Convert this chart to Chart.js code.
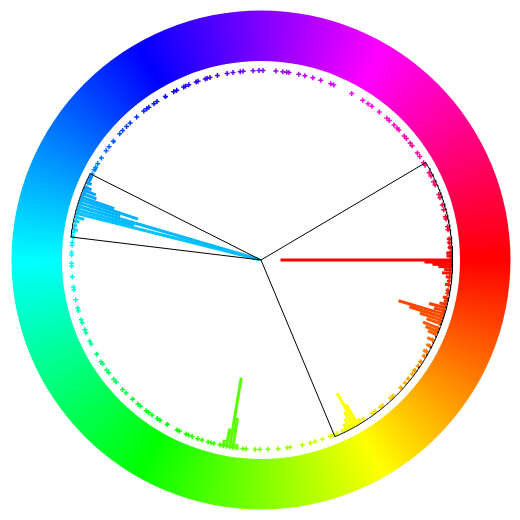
<!DOCTYPE html>
<html><head><meta charset="utf-8">
<script src="https://cdn.jsdelivr.net/npm/chart.js@4/dist/chart.umd.min.js"></script>
<style>html,body{margin:0;padding:0;background:#fff}canvas{display:block}</style>
</head><body>
<canvas id="c" width="520" height="520"></canvas>
<script>
// Hue histogram: bin hue (degrees) and count in that bin
const hueBins = [
  0, 0.7, 1.4, 2.1, 3.0, 4.0, 5.2, 6.4, 7.5, 9.2, 10.1, 11.5, 12.5, 13.5, 14.5, 15.5, 16.5, 17.5, 18.5, 19.5,
  21, 22, 23, 25, 27, 29, 30.5, 32.5, 34, 35.7, 37, 38.9, 40.5, 42.4, 45.8, 46.9, 50.2, 51, 52.9, 54,
  57.2, 58.5, 59.5, 60.3, 61.2, 62.2, 63.2, 64.5, 66.3, 67.5, 68.5, 71.1, 73.4, 74.9, 77.4, 81.2, 82.1, 84.8, 87.9, 90.3,
  91.8, 94.5, 95.5, 97.5, 98.5, 99.5, 100.5, 101.5, 102.5, 104.4, 105.3, 106.2, 108.1, 109.5, 111.3, 112.5, 113.3, 115.5, 116.3, 119.7,
  122.2, 123.2, 125.1, 126.4, 127.3, 129.5, 130.5, 132.7, 135.4, 136.9, 139.9, 141, 143.5, 144.5, 146.7, 147.5, 150.2, 153.7, 154.6, 157.4,
  158.4, 160.7, 161.6, 164.5, 165.3, 167.9, 171, 171.8, 174.9, 178.2, 179, 181.5, 182.3, 184.5, 185.3, 187, 188.4, 189.2, 190.5, 191.8,
  193, 194.2, 195.2, 196.3, 197.4, 198.4, 199.3, 200.4, 201.5, 202.5, 204, 205, 206, 207, 208.4, 209.2, 210.5, 212.6, 215.2, 216.7,
  218.8, 221.8, 223.1, 224.8, 226.3, 229, 231.8, 232.9, 233.7, 235.6, 236.7, 239.7, 242.6, 243.6, 245.9, 246.5, 247.6, 250, 250.6, 252.9,
  253.5, 254.4, 256.7, 259.7, 261.5, 263.7, 264.6, 267.6, 269.4, 270.6, 274.5, 276.6, 277.8, 278.5, 281.5, 283.4, 285.9, 288.4, 291.6, 292.6,
  298.6, 302.5, 304.4, 305.8, 308.6, 311.6, 312.6, 314.6, 315.9, 316.7, 319.1, 320.1, 321.9, 322.9, 325.6, 326.9, 329.1, 330, 332.6, 333.7,
  335.6, 336.7, 339.8, 340.8, 343.1, 344.6, 346.8, 347.5, 349.9, 350.8, 353.6, 354.8, 356.2, 357.8, 358.8
];
const binCounts = [
  86, 14, 10, 7, 4, 5, 3, 2, 3, 2, 1, 3, 2, 4, 9, 6, 24, 18, 12, 8,
  9, 7, 5, 4, 3, 3, 2, 2, 1, 2, 1, 2, 1, 2, 1, 1, 1, 1, 1, 1,
  2, 3, 12, 19, 9, 6, 4, 2, 1, 1, 1, 1, 1, 1, 1, 1, 1, 1, 1, 1,
  1, 1, 1, 3, 16, 36, 10, 4, 2, 1, 1, 1, 1, 1, 1, 1, 1, 1, 1, 2,
  1, 1, 1, 1, 1, 1, 1, 2, 1, 1, 1, 1, 1, 1, 1, 1, 2, 1, 1, 1,
  1, 1, 1, 1, 1, 1, 1, 1, 1, 1, 1, 1, 1, 1, 1, 2, 1, 3, 2, 3,
  5, 95, 30, 94, 22, 31, 18, 8, 7, 4, 3, 2, 2, 1, 2, 2, 1, 1, 1, 1,
  2, 1, 1, 1, 1, 1, 1, 1, 1, 1, 1, 2, 1, 1, 1, 1, 1, 1, 1, 1,
  1, 1, 1, 1, 1, 1, 1, 1, 1, 1, 1, 1, 1, 1, 1, 1, 1, 1, 1, 1,
  1, 1, 1, 1, 1, 1, 1, 1, 1, 1, 1, 1, 1, 1, 1, 1, 1, 1, 1, 1,
  1, 1, 1, 1, 1, 1, 1, 1, 1, 1, 2, 2, 2, 3, 3
];
// Highlighted hue sectors (degrees, clockwise from red)
const sectorStart = [186.9, 329.4];
const sectorEnd   = [206.8, 67.3];

const BASE_R = 189.5, STEP = 2, ARC_R = 191.5, RING_IN = 199, RING_OUT = 249.5;

function pt(h, r) {
  const a = h * Math.PI / 180;
  return { x: r * Math.cos(a), y: -r * Math.sin(a) };
}
const hsl = h => `hsl(${h},100%,50%)`;

const barData = [], barHue = [];
hueBins.forEach((h, i) => {
  barData.push(pt(h, BASE_R));
  barData.push(pt(h, BASE_R - (binCounts[i] - 1) * STEP));
  barData.push({ x: null, y: null });
  barHue.push(h, h, h);
});

const sectorSets = sectorStart.map((s, i) => {
  let e = sectorEnd[i];
  if (e < s) e += 360;
  const d = [{ x: 0, y: 0 }];
  for (let a = s; a < e; a += 0.5) d.push(pt(a, ARC_R));
  d.push(pt(e, ARC_R));
  d.push({ x: 0, y: 0 });
  return { data: d, showLine: true, borderColor: '#000', borderWidth: 1, pointRadius: 0, pointHoverRadius: 0, fill: false };
});

const hueRing = {
  id: 'hueRing',
  beforeDatasetsDraw(chart) {
    const ctx = chart.ctx, xs = chart.scales.x, ys = chart.scales.y;
    const cx = xs.getPixelForValue(0), cy = ys.getPixelForValue(0);
    const ro = xs.getPixelForValue(RING_OUT) - cx, ri = xs.getPixelForValue(RING_IN) - cx;
    ctx.save();
    const g = ctx.createConicGradient(0, cx, cy);
    for (let k = 0; k <= 6; k++) g.addColorStop(k / 6, hsl(k * 60));
    ctx.fillStyle = g;
    ctx.beginPath();
    ctx.arc(cx, cy, ro, 0, Math.PI * 2);
    ctx.arc(cx, cy, ri, 0, Math.PI * 2, true);
    ctx.fill();
    ctx.restore();
  }
};

new Chart(document.getElementById('c'), {
  type: 'scatter',
  data: {
    datasets: [
      ...sectorSets,
      {
        data: barData,
        showLine: true,
        spanGaps: false,
        borderWidth: 3,
        borderColor: '#f00',
        segment: { borderColor: c => hsl(barHue[c.p0DataIndex]) },
        pointStyle: 'cross',
        pointRadius: c => (c.dataIndex % 3 === 0 ? 2.5 : 0),
        pointHoverRadius: 0,
        pointBorderWidth: 1.5,
        pointBorderColor: c => hsl(barHue[c.dataIndex] || 0),
        pointBackgroundColor: c => hsl(barHue[c.dataIndex] || 0)
      }
    ]
  },
  options: {
    responsive: false,
    animation: false,
    devicePixelRatio: 1,
    layout: { padding: 0, autoPadding: false },
    events: [],
    plugins: { legend: { display: false }, tooltip: { enabled: false } },
    scales: {
      x: { type: 'linear', min: -261, max: 259, display: false },
      y: { type: 'linear', min: -260, max: 260, display: false }
    }
  },
  plugins: [hueRing]
});
</script>
</body></html>
